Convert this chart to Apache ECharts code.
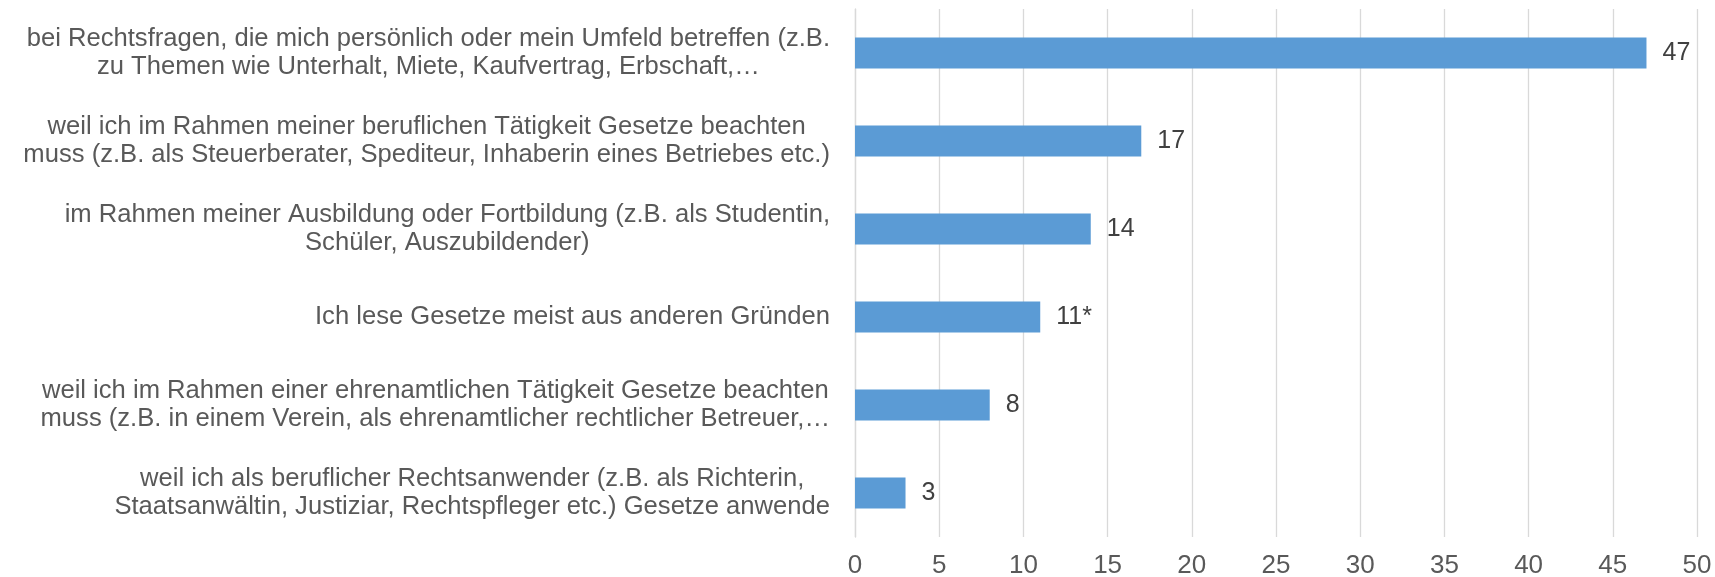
<!DOCTYPE html>
<html>
<head>
<meta charset="utf-8">
<script src="https://cdn.jsdelivr.net/npm/echarts@6/dist/echarts.min.js"></script>
<style>
  html, body { margin: 0; padding: 0; background: #ffffff; }
  #chart { width: 1715px; height: 577px; }
</style>
</head>
<body>
<div id="chart"></div>
<script>
const categories = [
    "bei Rechtsfragen, die mich persönlich oder mein Umfeld betreffen (z.B.\nzu Themen wie Unterhalt, Miete, Kaufvertrag, Erbschaft,…",
    "weil ich im Rahmen meiner beruflichen Tätigkeit Gesetze beachten\nmuss (z.B. als Steuerberater, Spediteur, Inhaberin eines Betriebes etc.)",
    "im Rahmen meiner Ausbildung oder Fortbildung (z.B. als Studentin,\nSchüler, Auszubildender)",
    "Ich lese Gesetze meist aus anderen Gründen",
    "weil ich im Rahmen einer ehrenamtlichen Tätigkeit Gesetze beachten\nmuss (z.B. in einem Verein, als ehrenamtlicher rechtlicher Betreuer,…",
    "weil ich als beruflicher Rechtsanwender (z.B. als Richterin,\nStaatsanwältin, Justiziar, Rechtspfleger etc.) Gesetze anwende"
];
const values = [47, 17, 14, 11, 8, 3];
const valueLabels = ["47", "17", "14", "11*", "8", "3"];

const font = "'Liberation Sans', Arial, sans-serif";

function generateChart(chartId)
{
    const chart = echarts.init(document.getElementById(chartId));

    chart.setOption({
        animation: false,
        grid: { left: 855, right: 18, top: 9, bottom: 40, containLabel: false, outerBoundsMode: "none" },
        xAxis: {
            type: "value",
            min: 0,
            max: 50,
            interval: 5,
            axisLine: { show: false },
            axisTick: { show: false },
            splitLine: { lineStyle: { color: "#d9d9d9", width: 1.3 } },
            axisLabel: {
                color: "#595959",
                fontFamily: font,
                fontSize: 26,
                lineHeight: 26,
                margin: 16
            }
        },
        yAxis: {
            type: "category",
            inverse: true,
            data: categories,
            axisTick: { show: false },
            axisLine: { lineStyle: { color: "#d9d9d9", width: 1.3 } },
            axisLabel: {
                margin: 25,
                align: "right",
                formatter: (value) => value.split("\n").map((line) => "{c|" + line + "}").join("\n"),
                rich: {
                    c: {
                        align: "center",
                        color: "#595959",
                        fontFamily: font,
                        fontSize: 25.6,
                        lineHeight: 28.5
                    }
                }
            }
        },
        series: [{
            type: "bar",
            data: values,
            barWidth: 31,
            itemStyle: { color: "#5b9bd5" },
            label: {
                show: true,
                position: "right",
                distance: 16,
                color: "#404040",
                fontFamily: font,
                fontSize: 25,
                formatter: (p) => valueLabels[p.dataIndex]
            }
        }]
    });
}

generateChart("chart");
</script>
</body>
</html>
